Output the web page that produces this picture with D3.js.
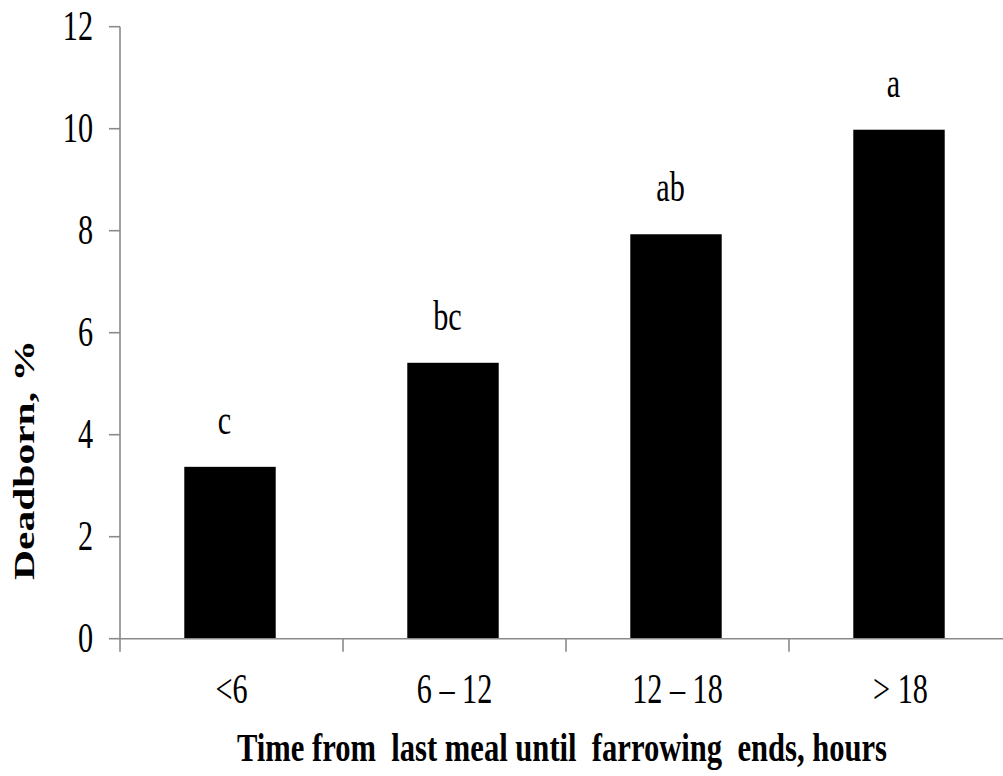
<!doctype html>
<html>
  <head>
    <title>Deadborn</title>
    <style>
      * { margin: 0; padding: 0; }
      body { background: #fff; }
      text { font-family: "Liberation Serif", "Times New Roman", serif; fill: #000; white-space: pre; }
    </style>
    <script src="https://cdnjs.cloudflare.com/ajax/libs/d3/7.8.5/d3.min.js"></script>
  </head>
  <body>
    <script>
      var categories = ["<6", "6 \u2013 12", "12 \u2013 18", "> 18"];
      var values = [3.37, 5.41, 7.93, 9.98];
      var letters = ["c", "bc", "ab", "a"];
      var yTicks = [0, 2, 4, 6, 8, 10, 12];

      var width = 1003, height = 776;
      var left = 120, top_ = 26.7, bottom = 638.7;
      var step = 223;
      var sx = 0.72; // the picture is squeezed horizontally
      var axisColor = "#8a8a8a";

      var svg = d3.select("body").append("svg")
                  .attr("width", width)
                  .attr("height", height);

      var x = d3.scaleBand()
                .domain(categories)
                .range([left, left + step * categories.length])
                .paddingInner(0.59)
                .paddingOuter(0.295);

      var y = d3.scaleLinear()
                .domain([0, 12])
                .range([bottom, top_]);

      // bars
      svg.selectAll("rect.bar")
         .data(values)
         .enter()
         .append("rect")
         .attr("class", "bar")
         .attr("x", function (d, i) { return x(categories[i]) - 1.5; })
         .attr("y", function (d) { return y(d); })
         .attr("width", x.bandwidth())
         .attr("height", function (d) { return y(0) - y(d); })
         .attr("fill", "#000");

      // significance letters (sit a little left of the bar centre)
      svg.selectAll("text.letter")
         .data(values)
         .enter()
         .append("text")
         .attr("class", "letter")
         .attr("transform", function (d, i) {
           return "translate(" + (x(categories[i]) + x.bandwidth() / 2 - 7) + "," + (y(d) - 33) + ") scale(" + sx + ",1)";
         })
         .attr("text-anchor", "middle")
         .attr("font-size", "42px")
         .text(function (d, i) { return letters[i]; });

      // y axis
      var yAxis = svg.append("g");
      yAxis.append("line")
           .attr("x1", left).attr("x2", left)
           .attr("y1", y(12)).attr("y2", y(0))
           .attr("stroke", axisColor).attr("stroke-width", 1.6);
      yAxis.selectAll("line.tick")
           .data(yTicks)
           .enter()
           .append("line")
           .attr("class", "tick")
           .attr("x1", left - 11).attr("x2", left)
           .attr("y1", function (d) { return y(d); })
           .attr("y2", function (d) { return y(d); })
           .attr("stroke", axisColor).attr("stroke-width", 1.6);
      yAxis.selectAll("text")
           .data(yTicks)
           .enter()
           .append("text")
           .attr("transform", function (d) { return "translate(93," + (y(d) + 13) + ") scale(" + sx + ",1)"; })
           .attr("text-anchor", "end")
           .attr("font-size", "42px")
           .text(function (d) { return d; });

      // x axis
      var xAxis = svg.append("g");
      xAxis.append("line")
           .attr("x1", left).attr("x2", width)
           .attr("y1", y(0)).attr("y2", y(0))
           .attr("stroke", axisColor).attr("stroke-width", 1.6);
      xAxis.selectAll("line.tick")
           .data(d3.range(categories.length + 1))
           .enter()
           .append("line")
           .attr("class", "tick")
           .attr("x1", function (d) { return left + d * x.step(); })
           .attr("x2", function (d) { return left + d * x.step(); })
           .attr("y1", y(0)).attr("y2", y(0) + 13)
           .attr("stroke", axisColor).attr("stroke-width", 1.6);
      xAxis.selectAll("text")
           .data(categories)
           .enter()
           .append("text")
           .attr("transform", function (d) { return "translate(" + (x(d) + x.bandwidth() / 2) + ",703) scale(" + sx + ",1)"; })
           .attr("text-anchor", "middle")
           .attr("font-size", "42px")
           .text(function (d) { return d; });

      // axis titles
      svg.append("text")
         .attr("transform", "translate(562,761) scale(" + sx + ",1)")
         .attr("text-anchor", "middle")
         .attr("font-size", "40px")
         .attr("font-weight", "bold")
         .attr("textLength", 650 / sx)
         .attr("lengthAdjust", "spacingAndGlyphs")
         .text("Time from  last meal until  farrowing  ends, hours");

      svg.append("text")
         .attr("transform", "translate(34,460) scale(" + sx + ",1) rotate(-90)")
         .attr("text-anchor", "middle")
         .attr("font-size", "42px")
         .attr("font-weight", "bold")
         .attr("textLength", 240)
         .attr("lengthAdjust", "spacingAndGlyphs")
         .text("Deadborn, %");
    </script>
  </body>
</html>
